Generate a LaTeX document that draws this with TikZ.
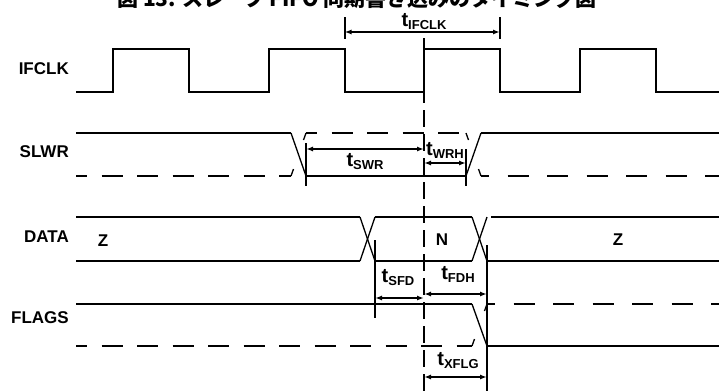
\documentclass[tikz,border=0pt]{standalone}
\usepackage{fontspec}
\setmainfont{Liberation Sans}
\newfontfamily\jpfont{Noto Sans CJK JP}
\usetikzlibrary{arrows.meta}
\newcommand\tsb[1]{t\raisebox{-3pt}{\fontsize{13}{14}\selectfont #1}}
\begin{document}
\begin{tikzpicture}[x=1pt,y=-1pt,
  sig/.style={line width=2pt},
  udash/.style={line width=2pt, dash pattern=on 21pt off 14.5pt, dash phase=10pt},
  rdash/.style={line width=2pt, dash pattern=on 21pt off 18.5pt, dash phase=13pt},
  sedge/.style={line width=1.3pt},
  tickln/.style={line width=2pt},
  dimln/.style={line width=1.5pt, {Latex[length=7pt,width=5pt]}-{Latex[length=7pt,width=5pt]}},
  vref/.style={line width=2pt, dash pattern=on 17pt off 7pt},
  siglab/.style={font=\fontsize{17}{18}\selectfont\bfseries, inner sep=0pt},
  tlab/.style={font=\fontsize{20}{22}\selectfont\bfseries, inner sep=0pt, anchor=base}]
\useasboundingbox (0,0) rectangle (719,391);

% title (cut at top)
\node[anchor=base west, inner sep=0pt, font=\jpfont\bfseries\fontsize{21}{21}\selectfont] (title) at (117,6) {図 13. スレーブ FIFO 同期書き込みのタイミング図};

% signal labels
\node[siglab, anchor=east] (lifclk) at (69,69) {IFCLK};
\node[siglab, anchor=east] (lslwr) at (69,152) {SLWR};
\node[siglab, anchor=east] (ldata) at (69,237) {DATA};
\node[siglab, anchor=east] (lflags) at (69,318) {FLAGS};
\node[siglab] (z1) at (103,241) {Z};
\node[siglab] (nn) at (442,240) {N};
\node[siglab] (z2) at (618,240) {Z};

% reference dashed line
\coordinate (vtop) at (424,38);
\coordinate (vbot) at (424,391);
\draw[vref] (vtop) -- (vbot);

% IFCLK
\draw[sig] (76,92) -- (113,92) -- (113,49) -- (189,49) -- (189,92) -- (268.5,92) -- (268.5,49) -- (344.5,49) -- (344.5,92) -- (424,92) -- (424,49) -- (500,49) -- (500,92) -- (579.5,92) -- (579.5,49) -- (655.5,49) -- (655.5,92) -- (719,92);

% SLWR
\draw[sig] (76,133) -- (291,133);
\draw[sedge] (291,133) -- (306,176);
\draw[sig] (306,176) -- (466,176);
\draw[sedge] (466,176) -- (481,133);
\draw[sig] (481,133) -- (719,133);
\draw[udash] (76,176) -- (291,176);
\draw[sedge] (291,176) -- (293.5,169);
\draw[sedge] (303.5,140) -- (306,133);
\draw[udash] (306,133) -- (466,133);
\draw[sedge] (466,133) -- (468.5,140);
\draw[sedge] (478.5,169) -- (481,176);
\draw[rdash] (481,176) -- (719,176);

% DATA
\draw[sig] (76,217) -- (360,217);
\draw[sig] (76,261) -- (360,261);
\draw[sedge] (360,217) -- (375,261);
\draw[sedge] (360,261) -- (375,217);
\draw[sig] (375,217) -- (472,217);
\draw[sig] (375,261) -- (472,261);
\draw[sedge] (472,217) -- (487,261);
\draw[sedge] (472,261) -- (487,217);
\draw[sig] (491,217) -- (719,217);
\draw[sig] (487,261) -- (719,261);

% FLAGS
\draw[sig] (76,304) -- (472,304);
\draw[sedge] (472,304) -- (487,346);
\draw[sig] (487,346) -- (719,346);
\draw[udash] (76,346) -- (472,346);
\draw[sedge] (472,346) -- (474.5,339);
\draw[sedge] (484.5,311) -- (487,304);
\draw[rdash] (487,304) -- (719,304);

% ticks
\coordinate (ta1) at (344.5,17); \coordinate (ta2) at (344.5,39);
\coordinate (tb1) at (500,17);   \coordinate (tb2) at (500,39);
\coordinate (tc1) at (306,143);  \coordinate (tc2) at (306,186);
\coordinate (td1) at (466,149);  \coordinate (td2) at (466,186);
\coordinate (te1) at (375,240);  \coordinate (te2) at (375,318);
\coordinate (tf1) at (487,245);  \coordinate (tf2) at (487,391);
\draw[tickln] (ta1) -- (ta2);
\draw[tickln] (tb1) -- (tb2);
\draw[tickln] (tc1) -- (tc2);
\draw[tickln] (td1) -- (td2);
\draw[tickln] (te1) -- (te2);
\draw[tickln] (tf1) -- (tf2);

% dimension arrows
\coordinate (ifL) at (344.5,32); \coordinate (ifR) at (500,32);
\coordinate (swL) at (306,149);  \coordinate (swR) at (424,149);
\coordinate (whL) at (424,163);  \coordinate (whR) at (466,163);
\coordinate (sfL) at (375,298);  \coordinate (sfR) at (424,298);
\coordinate (fdL) at (424,294);  \coordinate (fdR) at (487,294);
\coordinate (xfL) at (424,377);  \coordinate (xfR) at (487,377);
\draw[dimln] (ifL) -- (ifR);
\draw[dimln] (swL) -- (swR);
\draw[dimln] (whL) -- (whR);
\draw[dimln] (sfL) -- (sfR);
\draw[dimln] (fdL) -- (fdR);
\draw[dimln] (xfL) -- (xfR);

% timing labels
\node[tlab] (tifclk) at (424,26) {\tsb{IFCLK}};
\node[tlab] (tswr) at (365,166) {\tsb{SWR}};
\node[tlab] (twrh) at (445,155) {\tsb{WRH}};
\node[tlab] (tsfd) at (398,282) {\tsb{SFD}};
\node[tlab] (tfdh) at (458,279) {\tsb{FDH}};
\node[tlab] (txflg) at (458,365) {\tsb{XFLG}};
\end{tikzpicture}
\end{document}
